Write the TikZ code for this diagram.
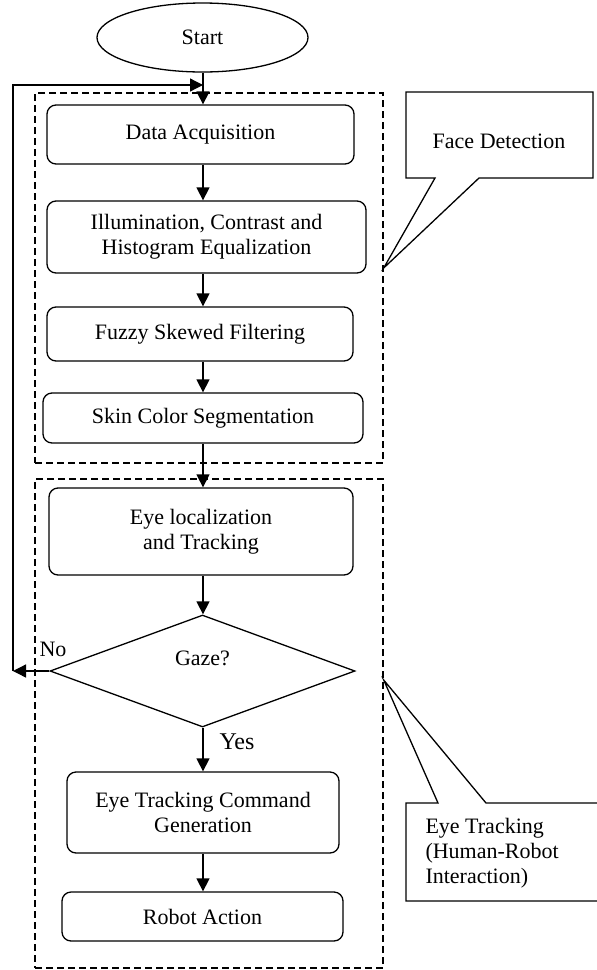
\documentclass[tikz,border=0pt]{standalone}
\usepackage{fontspec}
\setmainfont{Liberation Serif}
\usetikzlibrary{arrows.meta,shapes.geometric}
\begin{document}
\begin{tikzpicture}[x=1pt,y=-1pt,
  every node/.style={font=\fontsize{22}{25}\selectfont},
  ln/.style={line width=1.3pt},
  arr/.style={ln,-{Triangle[length=13pt,width=13pt]}},
  rbox/.style={draw,ln,rounded corners=9pt,inner sep=0pt,align=center},
  grp/.style={draw,line width=1.4pt,dash pattern=on 7pt off 4pt,inner sep=0pt},
  callout/.style={draw,ln,fill=white}]
\useasboundingbox (0,0) rectangle (597,970);
\clip (0,0) rectangle (597,970);
\coordinate (ax) at (203,0);
% group boxes
\node[grp,minimum width=348pt,minimum height=370pt] (fd) at (209,278) {};
\node[grp,minimum width=348pt,minimum height=489pt] (et) at (209,723.5) {};
% nodes
\node[draw,ln,ellipse,minimum width=211pt,minimum height=69pt,inner sep=0pt] (start) at (202.5,37.5) {Start};
\node[rbox,minimum width=307pt,minimum height=59pt] (da) at (200.5,134.5) {Data Acquisition};
\node[rbox,minimum width=319pt,minimum height=72pt] (ill) at (206.5,237) {Illumination, Contrast and\\Histogram Equalization};
\node[rbox,minimum width=306pt,minimum height=54pt] (fz) at (200,334) {Fuzzy Skewed Filtering};
\node[rbox,minimum width=320pt,minimum height=50pt] (sk) at (203,418) {Skin Color Segmentation};
\node[rbox,minimum width=304pt,minimum height=87pt] (el) at (201,531.5) {Eye localization\\and Tracking};
\node[draw,ln,diamond,minimum width=305pt,minimum height=112pt,inner sep=0pt] (gz) at (202.5,671) {};
\node (gzt) at (202.5,658) {Gaze?};
\node[rbox,minimum width=272pt,minimum height=81pt] (tc) at (203,812.5) {Eye Tracking Command\\Generation};
\node[rbox,minimum width=281pt,minimum height=49pt] (ra) at (202.5,916.5) {Robot Action};
\node (no) at (53,649) {No};
\node[font=\fontsize{24}{27}\selectfont] (yes) at (237,742) {Yes};
% connectors
\coordinate (lp) at (13,671);
\coordinate (jn) at (203,85);
\draw[arr] (start.south -| ax) -- (da.north -| ax);
\draw[arr] (da.south -| ax) -- (ill.north -| ax);
\draw[arr] (ill.south -| ax) -- (fz.north -| ax);
\draw[arr] (fz.south -| ax) -- (sk.north -| ax);
\draw[arr] (sk.south -| ax) -- (el.north -| ax);
\draw[arr] (el.south -| ax) -- (gz.north -| ax);
\draw[arr] (gz.south -| ax) -- (tc.north -| ax);
\draw[arr] (tc.south -| ax) -- (ra.north -| ax);
\draw[arr] (gz.west) -- (lp);
\draw[arr] (lp) |- (jn);
% callouts
\draw[callout] (406,92) -- (593,92) -- (593,178) -- (479,178) -- (fd.east |- 0,268) -- (435,178) -- (406,178) -- cycle;
\node (fdt) at (499,141) {Face Detection};
\draw[callout] (406,803) -- (438,803) -- (et.east |- 0,680) -- (486,803) -- (610,803) -- (610,901) -- (406,901) -- cycle;
\node[anchor=west,align=left] (ett) at (422,853) {Eye Tracking\\(Human-Robot\\Interaction)};
\end{tikzpicture}
\end{document}
